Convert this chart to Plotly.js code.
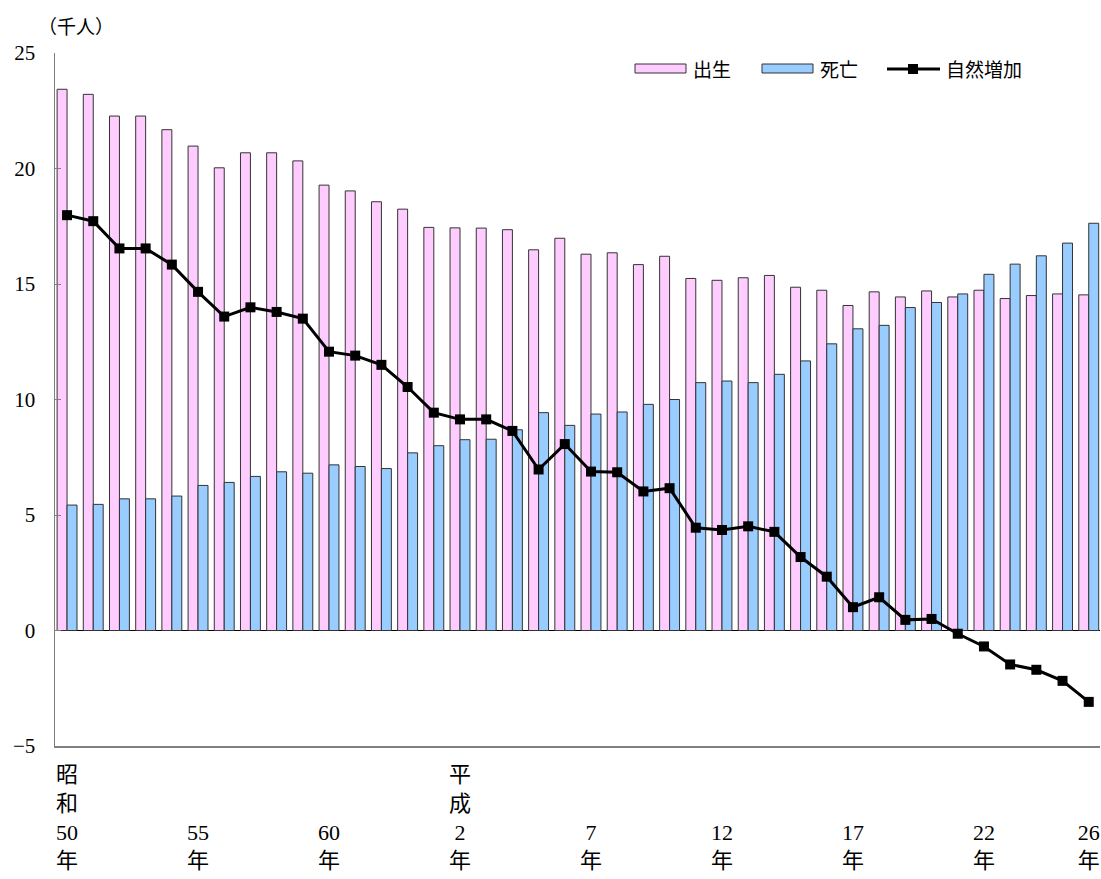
<!DOCTYPE html>
<html>
<head>
<meta charset="utf-8">
<script src="https://cdn.plot.ly/plotly-3.0.1.min.js"></script>
<style>
html,body{margin:0;padding:0;background:#fff;}
#chart{width:1101px;height:879px;}
</style>
</head>
<body>
<div id="chart"></div>
<script>
// Years: 昭和50年 (1975) … 平成26年 (2014)
const categories = [
  "昭和50年","昭和51年","昭和52年","昭和53年","昭和54年","昭和55年","昭和56年","昭和57年","昭和58年","昭和59年",
  "昭和60年","昭和61年","昭和62年","昭和63年","平成元年","平成2年","平成3年","平成4年","平成5年","平成6年",
  "平成7年","平成8年","平成9年","平成10年","平成11年","平成12年","平成13年","平成14年","平成15年","平成16年",
  "平成17年","平成18年","平成19年","平成20年","平成21年","平成22年","平成23年","平成24年","平成25年","平成26年"
];
// 出生 (thousand persons)
const births = [
  23.43,23.21,22.27,22.27,21.68,20.97,20.03,20.68,20.68,20.33,
  19.28,19.03,18.56,18.24,17.45,17.43,17.42,17.35,16.48,16.98,
  16.29,16.35,15.84,16.20,15.24,15.16,15.27,15.37,14.86,14.73,
  14.07,14.66,14.44,14.70,14.44,14.73,14.37,14.50,14.57,14.53
];
// 死亡 (thousand persons)
const deaths = [
  5.43,5.46,5.70,5.70,5.82,6.28,6.41,6.67,6.87,6.81,
  7.17,7.10,7.01,7.69,8.00,8.26,8.28,8.69,9.43,8.88,
  9.37,9.46,9.79,10.00,10.73,10.80,10.73,11.09,11.67,12.41,
  13.06,13.21,13.98,14.20,14.57,15.42,15.86,16.22,16.77,17.63
];
// 自然増加 (thousand persons)
const naturalIncrease = [
  17.98,17.72,16.54,16.54,15.84,14.66,13.59,13.99,13.79,13.50,
  12.07,11.90,11.50,10.54,9.43,9.14,9.14,8.64,6.97,8.07,
  6.88,6.85,6.02,6.16,4.45,4.35,4.51,4.27,3.18,2.33,
  1.01,1.44,0.46,0.50,-0.14,-0.69,-1.47,-1.70,-2.18,-3.09
];
const tickCategories = ["昭和50年","昭和55年","昭和60年","平成2年","平成7年","平成12年","平成17年","平成22年","平成26年"];
const tickLabels = ["昭<br>和<br>50<br>年"," <br> <br>55<br>年"," <br> <br>60<br>年","平<br>成<br>2<br>年",
                    " <br> <br>7<br>年"," <br> <br>12<br>年"," <br> <br>17<br>年"," <br> <br>22<br>年"," <br> <br>26<br>年"];
const seriesNames = ["出生","死亡","自然増加"];
const unitLabel = "（千人）";

const serif = '"Liberation Serif","DejaVu Serif","Noto Sans CJK JP",serif';
const sans = '"Noto Sans CJK JP","Noto Sans",sans-serif';

const traces = [
  {type:'bar', name:seriesNames[0], x:categories, y:births,
   marker:{color:'#FFCCFF', line:{color:'#333333', width:1}}},
  {type:'bar', name:seriesNames[1], x:categories, y:deaths,
   marker:{color:'#99CCFF', line:{color:'#333333', width:1}}},
  {type:'scatter', mode:'lines+markers', name:seriesNames[2], x:categories, y:naturalIncrease,
   line:{color:'#000000', width:3}, marker:{symbol:'square', size:10, color:'#000000'}}
];

const pk = v => v; // helper
const layout = {
  width:1101, height:879,
  margin:{l:55, r:1, t:53, b:133},
  paper_bgcolor:'#ffffff', plot_bgcolor:'#ffffff',
  showlegend:false,
  barmode:'group', bargap:0.24, bargroupgap:0,
  font:{family:serif, color:'#000000'},
  xaxis:{
    type:'category', categoryorder:'array', categoryarray:categories,
    range:[-0.46, 39.43], fixedrange:true,
    showline:true, linecolor:'#808080', linewidth:2, mirror:false,
    showgrid:false, zeroline:false, ticks:'',
    tickmode:'array', tickvals:tickCategories, ticktext:tickLabels,
    tickangle:0, tickfont:{family:serif, size:22, color:'#000000'},
    ticklabelstandoff:8
  },
  yaxis:{
    range:[-5, 25], dtick:5, tick0:0, fixedrange:true,
    showline:true, linecolor:'#808080', linewidth:1.5,
    showgrid:false, zeroline:true, zerolinecolor:'#000000', zerolinewidth:1.5,
    ticks:'inside', ticklen:6, tickcolor:'#808080', tickwidth:1,
    tickfont:{family:serif, size:21, color:'#000000'},
    ticklabelstandoff:14
  },
  annotations:[
    {xref:'paper', yref:'paper', x:-0.018, y:1.0, xanchor:'left', yanchor:'bottom', yshift:12,
     text:unitLabel, showarrow:false, font:{family:sans, size:19, color:'#000000'}},
    {xref:'paper', yref:'paper', x:(691-55)/1045, y:(746-69)/693, xanchor:'left', yanchor:'middle',
     text:seriesNames[0], showarrow:false, font:{family:sans, size:19, color:'#000000'}},
    {xref:'paper', yref:'paper', x:(818-55)/1045, y:(746-69)/693, xanchor:'left', yanchor:'middle',
     text:seriesNames[1], showarrow:false, font:{family:sans, size:19, color:'#000000'}},
    {xref:'paper', yref:'paper', x:(944-55)/1045, y:(746-69)/693, xanchor:'left', yanchor:'middle',
     text:seriesNames[2], showarrow:false, font:{family:sans, size:19, color:'#000000'}}
  ],
  shapes:[
    {type:'rect', xref:'paper', yref:'paper', x0:(635-55)/1045, x1:(686-55)/1045, y0:(746-73)/693, y1:(746-64)/693,
     fillcolor:'#FFCCFF', line:{color:'#333333', width:1}},
    {type:'rect', xref:'paper', yref:'paper', x0:(762-55)/1045, x1:(813-55)/1045, y0:(746-73)/693, y1:(746-64)/693,
     fillcolor:'#99CCFF', line:{color:'#333333', width:1}},
    {type:'line', xref:'paper', yref:'paper', x0:(887-55)/1045, x1:(940-55)/1045, y0:(746-69)/693, y1:(746-69)/693,
     line:{color:'#000000', width:3}},
    {type:'rect', xref:'paper', yref:'paper', x0:(908-55)/1045, x1:(918-55)/1045, y0:(746-74)/693, y1:(746-64)/693,
     fillcolor:'#000000', line:{color:'#000000', width:0}}
  ]
};

Plotly.newPlot('chart', traces, layout, {displayModeBar:false, staticPlot:true});
</script>
</body>
</html>
